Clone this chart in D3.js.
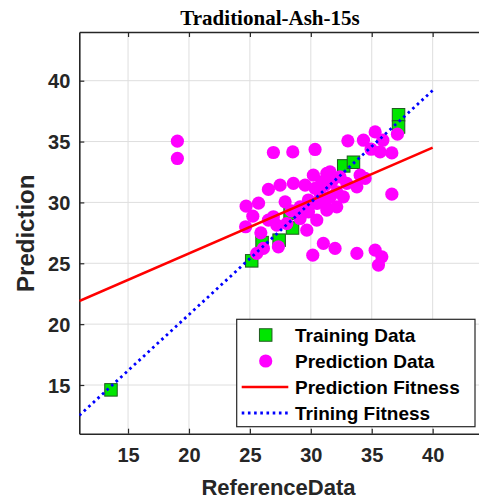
<!DOCTYPE html>
<html>
<head>
<meta charset="utf-8">
<script src="https://cdn.jsdelivr.net/npm/d3@7"></script>
<style>
  html, body { margin: 0; padding: 0; background: #fff; }
  svg { display: block; }
</style>
</head>
<body>
<svg id="chart" width="479" height="501"></svg>
<script>
// Axis ticks
const xTicks = [15, 20, 25, 30, 35, 40];
const yTicks = [15, 20, 25, 30, 35, 40];

// Training samples: reference vs predicted
const trainRef  = [13.6, 25.15, 26.0, 27.4, 28.5, 28.3, 32.7, 33.5, 37.2, 37.2];
const trainPred = [14.6, 25.2, 26.7, 26.9, 27.9, 29.1, 33.0, 33.3, 37.2, 36.2];

// Prediction samples: reference vs predicted
const predRef = [
  19.05, 19.05, 24.69, 25.24, 24.65, 25.71, 26.93, 28.52, 30.35, 33.04,
  34.32, 35.28, 35.91, 34.95, 35.69, 36.65, 37.11, 36.65, 30.21, 31.31,
  31.72, 32.40, 32.95, 33.78, 34.05, 34.46, 26.52, 27.48, 28.57, 29.53,
  30.35, 31.17, 27.89, 29.12, 31.17, 32.13, 32.67, 31.31, 26.93, 27.21,
  28.03, 29.12, 29.67, 30.49, 26.11, 27.34, 31.03, 31.99, 30.16, 33.78,
  35.28, 35.83, 35.55, 25.56, 26.52, 31.58, 29.8, 28.4, 30.8, 25.9,
  29.81, 30.51, 30.92, 31.6, 32.13, 30.9
];
const predPred = [
  35.03, 33.61, 29.69, 28.87, 28.00, 29.94, 34.10, 34.15, 34.35, 35.06,
  35.11, 35.79, 35.11, 34.37, 34.15, 34.07, 35.61, 30.68, 32.24, 32.38,
  31.69, 32.10, 31.56, 31.28, 32.24, 31.97, 31.07, 31.42, 31.56, 31.42,
  31.15, 31.42, 30.05, 29.64, 29.92, 29.64, 30.46, 29.37, 28.82, 28.14,
  28.27, 28.68, 27.72, 28.55, 26.22, 26.35, 26.63, 26.22, 25.67, 25.81,
  26.08, 25.53, 24.85, 25.81, 28.55, 32.51, 30.2, 29.3, 30.6, 27.5,
  29.23, 29.92, 30.46, 30.46, 30.87, 31.69
];

// Fitted lines (endpoints)
const predFitX = [11, 40];
const predFitY = [21.9, 34.5];
const trainFitX = [11, 40];
const trainFitY = [12.5, 39.2];

const legendLabels = ["Training Data", "Prediction Data", "Prediction Fitness", "Trining Fitness"];

const svg = d3.select("#chart");
const pLeft = 79.3, pRight = 481.4, pTop = 32, pBottom = 433.7;

const x = d3.scaleLinear().domain([11, 44]).range([pLeft, pRight]);
const y = d3.scaleLinear().domain([11, 44]).range([pBottom, pTop]);

svg.append("defs").append("clipPath").attr("id", "plotClip")
  .append("rect").attr("x", pLeft).attr("y", pTop)
  .attr("width", pRight - pLeft).attr("height", pBottom - pTop);

// Grid
const grid = svg.append("g").attr("stroke", "#dedede").attr("stroke-width", 1);
grid.selectAll("line.gx").data(xTicks).join("line").attr("class", "gx")
  .attr("x1", d => x(d)).attr("x2", d => x(d))
  .attr("y1", pTop).attr("y2", pBottom);
grid.selectAll("line.gy").data(yTicks).join("line").attr("class", "gy")
  .attr("x1", pLeft).attr("x2", pRight)
  .attr("y1", d => y(d)).attr("y2", d => y(d));

// Axes (ticks pointing inward)
const axisColor = "#262626";
const fontSans = "Arial, 'Liberation Sans', Helvetica, sans-serif";

const xAxis = svg.append("g").attr("transform", `translate(0,${pBottom})`)
  .call(d3.axisBottom(x).tickValues(xTicks).tickSizeInner(-5).tickSizeOuter(0).tickPadding(14));
const xAxisTop = svg.append("g").attr("transform", `translate(0,${pTop})`)
  .call(d3.axisTop(x).tickValues(xTicks).tickSizeInner(-5).tickSizeOuter(0).tickFormat(""));
const yAxis = svg.append("g").attr("transform", `translate(${pLeft},0)`)
  .call(d3.axisLeft(y).tickValues(yTicks).tickSizeInner(-5).tickSizeOuter(0).tickPadding(9));

[xAxis, xAxisTop, yAxis].forEach(g => {
  g.select(".domain").attr("stroke", axisColor).attr("stroke-width", 1.6);
  g.selectAll(".tick line").attr("stroke", axisColor).attr("stroke-width", 1.2);
  g.selectAll(".tick text").attr("fill", "#262626")
    .style("font-family", fontSans).style("font-size", "20px").style("font-weight", "bold");
});
yAxis.selectAll(".tick text").attr("dy", "0.36em");

// Plot content
const plot = svg.append("g").attr("clip-path", "url(#plotClip)");
const sq = 12.5;

plot.append("g").selectAll("rect").data(trainRef.map((r, i) => [r, trainPred[i]])).join("rect")
  .attr("x", d => x(d[0]) - sq / 2).attr("y", d => y(d[1]) - sq / 2)
  .attr("width", sq).attr("height", sq)
  .attr("fill", "#00e600").attr("stroke", "#1f5a1f").attr("stroke-width", 1);

plot.append("g").selectAll("circle").data(predRef.map((r, i) => [r, predPred[i]])).join("circle")
  .attr("cx", d => x(d[0])).attr("cy", d => y(d[1])).attr("r", 6.6)
  .attr("fill", "#ff00ff");

const line = d3.line().x(d => x(d[0])).y(d => y(d[1]));
plot.append("path").datum(predFitX.map((v, i) => [v, predFitY[i]]))
  .attr("d", line).attr("fill", "none").attr("stroke", "#ff0000").attr("stroke-width", 2.6);
plot.append("path").datum(trainFitX.map((v, i) => [v, trainFitY[i]]))
  .attr("d", line).attr("fill", "none").attr("stroke", "#0000ff").attr("stroke-width", 2.8)
  .attr("stroke-dasharray", "2.6,3.6");

// Title and axis labels
svg.append("text").attr("x", 270).attr("y", 25).attr("text-anchor", "middle")
  .style("font-family", "'Times New Roman', 'Liberation Serif', serif")
  .style("font-size", "21px").style("font-weight", "bold").attr("fill", "#000")
  .text("Traditional-Ash-15s");

svg.append("text").attr("x", 278.5).attr("y", 495).attr("text-anchor", "middle")
  .style("font-family", fontSans).style("font-size", "22px").style("font-weight", "bold")
  .attr("fill", "#262626").text("ReferenceData");

svg.append("text").attr("transform", "translate(34,233.3) rotate(-90)").attr("text-anchor", "middle")
  .style("font-family", fontSans).style("font-size", "24px").style("font-weight", "bold")
  .attr("fill", "#262626").text("Prediction");

// Legend
const lg = svg.append("g");
lg.append("rect").attr("x", 236.7).attr("y", 319.3).attr("width", 475 - 236.7).attr("height", 426.7 - 319.3)
  .attr("fill", "#fff").attr("stroke", "#262626").attr("stroke-width", 1.2);
const rowY = i => 335 + i * 26;
lg.selectAll("text").data(legendLabels).join("text")
  .attr("x", 295).attr("y", (d, i) => rowY(i)).attr("dy", "0.36em")
  .style("font-family", fontSans).style("font-size", "19px").style("font-weight", "bold")
  .attr("fill", "#000").text(d => d);
lg.append("rect").attr("x", 265.7 - sq / 2).attr("y", rowY(0) - sq / 2).attr("width", sq).attr("height", sq)
  .attr("fill", "#00e600").attr("stroke", "#1f5a1f").attr("stroke-width", 1);
lg.append("circle").attr("cx", 265.7).attr("cy", rowY(1)).attr("r", 6.6).attr("fill", "#ff00ff");
lg.append("line").attr("x1", 241.7).attr("x2", 288.3).attr("y1", rowY(2)).attr("y2", rowY(2))
  .attr("stroke", "#ff0000").attr("stroke-width", 2.6);
lg.append("line").attr("x1", 241.7).attr("x2", 288.3).attr("y1", rowY(3)).attr("y2", rowY(3))
  .attr("stroke", "#0000ff").attr("stroke-width", 2.8).attr("stroke-dasharray", "2.6,3.6");
</script>
</body>
</html>
